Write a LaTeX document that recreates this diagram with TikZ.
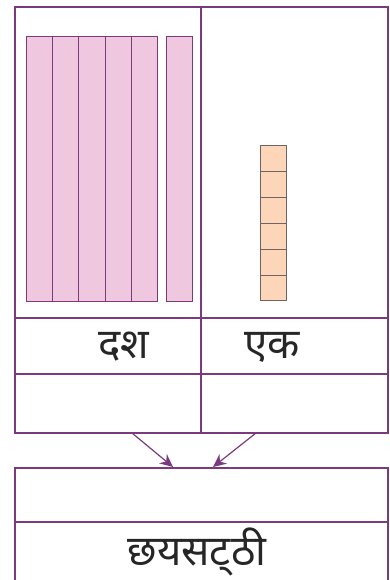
\documentclass[tikz,border=0pt]{standalone}
\usepackage{fontspec}
\newfontfamily\deva[Script=Devanagari]{Noto Sans}
\usetikzlibrary{arrows.meta}
\definecolor{frame}{HTML}{7B3A7E}
\definecolor{pinkfill}{HTML}{EFC8DF}
\definecolor{orangefill}{HTML}{FDD5B9}
\definecolor{unitline}{HTML}{6E6464}
\tikzset{
  cell/.style={draw=frame, line width=1.2pt},
  outer/.style={draw=frame, line width=1.8pt},
  tenrod/.style={draw=frame, fill=pinkfill, line width=1pt},
  unitcube/.style={draw=unitline, fill=orangefill, line width=1pt},
  lbl/.style={font=\deva\fontsize{42}{46}\selectfont, text=black!85, inner sep=0pt},
  arr/.style={draw=frame, line width=1.2pt, -{Stealth[length=13pt,width=12pt]}}
}
\begin{document}
\begin{tikzpicture}[x=1pt,y=-1pt]
\useasboundingbox (0,0) rectangle (390,580);
% top place-value box
\draw[outer] (15,7) rectangle (388,318);
\draw[cell] (201,7) -- (201,433);
% ten rods
\foreach \i in {0,...,4} {
  \draw[tenrod] ({26.3+\i*26.3},37) rectangle ({52.6+\i*26.3},301);
}
\draw[tenrod] (166,37) rectangle (192.3,301);
% unit cubes
\foreach \j in {0,...,5} {
  \draw[unitcube] (260,{146+\j*25.83}) rectangle (286,{171.83+\j*25.83});
}
% label rows
\draw[cell] (15,318) rectangle (388,433);
\draw[cell] (15,374) -- (388,374);
\node[lbl] (tens) at (124,347) {दश};
\node[lbl] (ones) at (272,347) {एक};
% bottom box
\draw[cell] (15,468) rectangle (388,585);
\draw[cell] (15,522) -- (388,522);
\node[lbl] (num) at (197,552) {छयसट्‌ठी};
% arrows
\coordinate (a1s) at (132,433);
\coordinate (a1e) at (173,467);
\coordinate (a2s) at (256,433);
\coordinate (a2e) at (213,467);
\draw[arr] (a1s) -- (a1e);
\draw[arr] (a2s) -- (a2e);
\end{tikzpicture}
\end{document}
